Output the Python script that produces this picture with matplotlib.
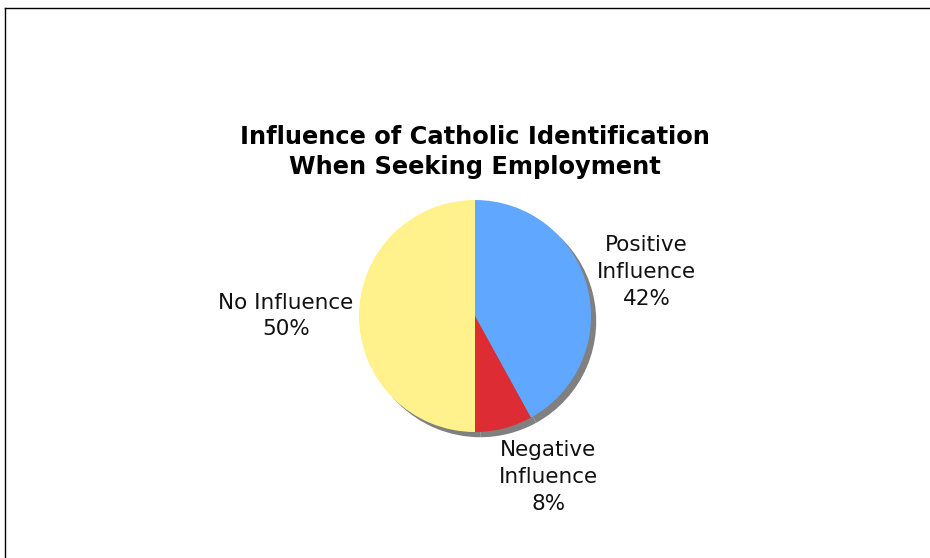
import matplotlib
matplotlib.use("Agg")
import matplotlib.pyplot as plt
from matplotlib.lines import Line2D

labels = ["Positive\nInfluence", "Negative\nInfluence", "No Influence"]
values = [42, 8, 50]
colors = ["#60A8FF", "#DD2C33", "#FFF18C"]
# where each label sits, in units of the pie radius
label_xy = [(1.48, 0.38), (0.63, -1.39), (-1.63, 0.0)]

W, H = 930, 558
R = 116.0          # pie radius in pixels
cx, cy = 475, 316  # pie centre, pixels from top-left

fig = plt.figure(figsize=(W / 100, H / 100), dpi=100)
ax = fig.add_axes([0, 0, 1, 1])

# drop shadow behind the pie
ax.pie(values, colors=["#808080"] * 3, startangle=90, counterclock=False,
       center=(0.045, -0.045), radius=1.0, frame=True)
ax.pie(values, colors=colors, startangle=90, counterclock=False,
       radius=1.0, frame=True, wedgeprops=dict(linewidth=0))
ax.set_xlim(-cx / R, (W - cx) / R)
ax.set_ylim(-(H - cy) / R, cy / R)
ax.set_aspect("equal")
ax.axis("off")

for lab, v, (x, y) in zip(labels, values, label_xy):
    ax.text(x, y, f"{lab}\n{v}%", ha="center", va="center",
            multialignment="center", fontsize=15.5, linespacing=1.43,
            color="#111111")

fig.text(475 / W, 1 - 152 / H,
         "Influence of Catholic Identification\nWhen Seeking Employment",
         ha="center", va="center", fontsize=17.4, fontweight="bold",
         linespacing=1.3)

# frame lines on the left and top
fig.add_artist(Line2D([5 / W, 5 / W], [0, 1 - 8 / H], color="black", lw=1))
fig.add_artist(Line2D([5 / W, 1], [1 - 8 / H, 1 - 8 / H], color="black", lw=1))

fig.savefig("out.png", dpi=100)
